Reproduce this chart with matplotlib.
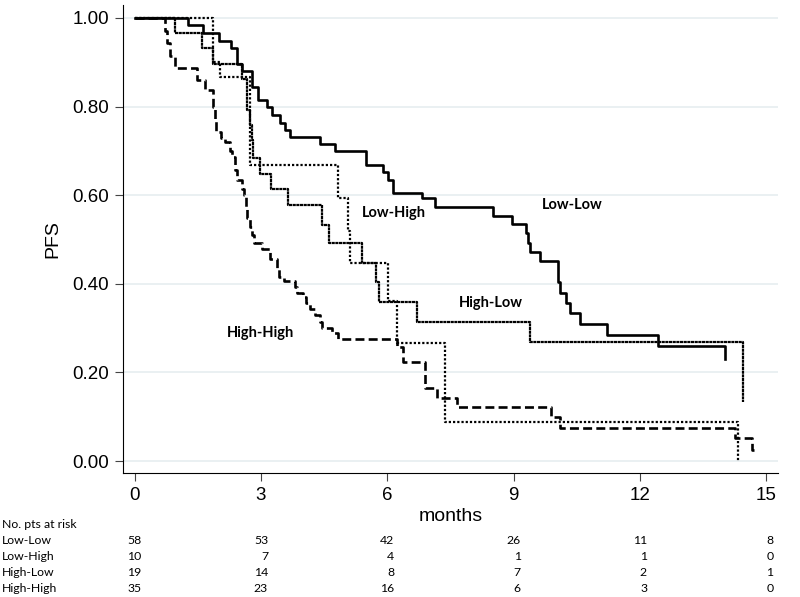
import matplotlib
matplotlib.use('Agg')
import matplotlib.pyplot as plt
import matplotlib.transforms as mtransforms

# Kaplan-Meier steps (months, PFS)
t_lowlow = [0, 1.28, 1.63, 2.0, 2.29, 2.43, 2.55, 2.79, 2.93, 3.14, 3.26, 3.45, 3.57, 3.69,
            4.41, 4.76, 5.5, 5.9, 6.02, 6.14, 6.82, 7.14, 8.51, 8.96, 9.3, 9.35, 9.38, 9.63,
            10.05, 10.1, 10.25, 10.33, 10.58, 11.22, 12.43, 14.03]
s_lowlow = [1.0, 0.983, 0.966, 0.948, 0.931, 0.897, 0.879, 0.845, 0.815, 0.8, 0.78, 0.762, 0.746, 0.731,
            0.716, 0.70, 0.668, 0.652, 0.634, 0.605, 0.594, 0.573, 0.554, 0.534, 0.514, 0.492, 0.472, 0.452,
            0.403, 0.38, 0.356, 0.334, 0.309, 0.284, 0.26, 0.23]

t_lowhigh = [0, 1.87, 2.03, 2.75, 4.83, 5.08, 5.12, 6.03, 6.23, 7.37, 14.34]
s_lowhigh = [1.0, 0.9, 0.867, 0.667, 0.594, 0.52, 0.447, 0.36, 0.267, 0.089, 0.0]

t_highlow = [0, 0.96, 1.6, 1.87, 2.55, 2.68, 2.74, 2.78, 2.82, 2.98, 3.24, 3.65, 4.45, 4.62,
             5.4, 5.74, 5.81, 6.7, 9.39, 14.45]
s_highlow = [1.0, 0.966, 0.931, 0.897, 0.862, 0.793, 0.759, 0.724, 0.683, 0.648, 0.613, 0.578, 0.533, 0.492,
             0.447, 0.404, 0.359, 0.314, 0.269, 0.133]

t_highhigh = [0, 0.72, 0.78, 0.85, 0.95, 1.48, 1.67, 1.87, 1.9, 1.93, 2.05, 2.15, 2.27, 2.32, 2.39,
              2.44, 2.55, 2.6, 2.64, 2.68, 2.75, 2.79, 2.83, 3.03, 3.22, 3.38, 3.44, 3.55, 3.81,
              3.86, 4.0, 4.08, 4.17, 4.28, 4.4, 4.46, 4.7, 4.83, 6.23, 6.38, 6.9, 7.18, 7.66,
              9.9, 10.1, 14.26, 14.67, 14.72]
s_highhigh = [1.0, 0.971, 0.943, 0.914, 0.886, 0.86, 0.837, 0.8, 0.771, 0.743, 0.729, 0.72, 0.7, 0.686, 0.657,
              0.634, 0.614, 0.6, 0.571, 0.549, 0.529, 0.51, 0.493, 0.478, 0.457, 0.436, 0.416, 0.407, 0.393,
              0.38, 0.37, 0.357, 0.343, 0.33, 0.314, 0.3, 0.29, 0.275, 0.257, 0.224, 0.165, 0.142, 0.122,
              0.1, 0.075, 0.052, 0.025, 0.025]

risk_times = [0, 3, 6, 9, 12, 15]
risk_groups = ['Low-Low', 'Low-High', 'High-Low', 'High-High']
risk_lowlow = [58, 53, 42, 26, 11, 8]
risk_lowhigh = [10, 7, 4, 1, 1, 0]
risk_highlow = [19, 14, 8, 7, 2, 1]
risk_highhigh = [35, 23, 16, 6, 3, 0]

yticks = [0.0, 0.2, 0.4, 0.6, 0.8, 1.0]
xticks = [0, 3, 6, 9, 12, 15]

fig = plt.figure(figsize=(8, 5.97), dpi=100)
ax = fig.add_axes([0.154, 0.2077, 0.8185, 0.7839])

for y in yticks:
    ax.axhline(y, color='#e6eef0', lw=1.2, zorder=0)

ax.step(t_lowlow, s_lowlow, where='post', color='black', lw=1.9)
ax.step(t_highlow, s_highlow, where='post', color='black', lw=1.6, linestyle=(0, (1.4, 0.25)))
ax.step(t_lowhigh, s_lowhigh, where='post', color='black', lw=1.6, linestyle=(0, (1, 0.9)))
ax.step(t_highhigh, s_highhigh, where='post', color='black', lw=1.9, linestyle=(0, (3.4, 1.6)))

lab_font = dict(family='Lato', fontweight='bold', fontsize=10.5, ha='center', va='center')
ax.text(6.15, 0.56, 'Low-High', **lab_font)
ax.text(8.47, 0.357, 'High-Low', **lab_font)
ax.text(2.98, 0.29, 'High-High', **lab_font)
ax.text(10.4, 0.578, 'Low-Low', **lab_font)

ax.set_xlim(-0.27, 15.28)
ax.set_ylim(-0.027, 1.029)
ax.set_xticks(xticks)
ax.set_yticks(yticks)
ax.set_yticklabels(['%.2f' % v for v in yticks])
ax.tick_params(length=6, width=0.8, color='#444444', labelsize=13.5, pad=4)
for lab in ax.get_xticklabels() + ax.get_yticklabels():
    lab.set_family('Liberation Sans')
ax.spines['top'].set_visible(False)
ax.spines['right'].set_visible(False)
ax.set_ylabel('PFS', fontsize=14, family='Liberation Sans', labelpad=8)
ax.set_xlabel('months', fontsize=14, family='Liberation Sans', labelpad=3)

# number at risk table
trans = mtransforms.blended_transform_factory(ax.transData, fig.transFigure)
row_y = [1 - 541 / 597, 1 - 557 / 597, 1 - 573 / 597, 1 - 589 / 597]
tab_font = dict(family='Lato', fontsize=8.8, va='center')
fig.text(2 / 800, 1 - 525 / 597, 'No. pts at risk', **tab_font)
for name, counts, yy in zip(risk_groups, [risk_lowlow, risk_lowhigh, risk_highlow, risk_highhigh], row_y):
    fig.text(2 / 800, yy, name, **tab_font)
    for tt, n in zip(risk_times, counts):
        ax.text(tt + 0.17, yy, str(n), transform=trans, ha='right', **tab_font)

fig.savefig('out.png', dpi=100)
